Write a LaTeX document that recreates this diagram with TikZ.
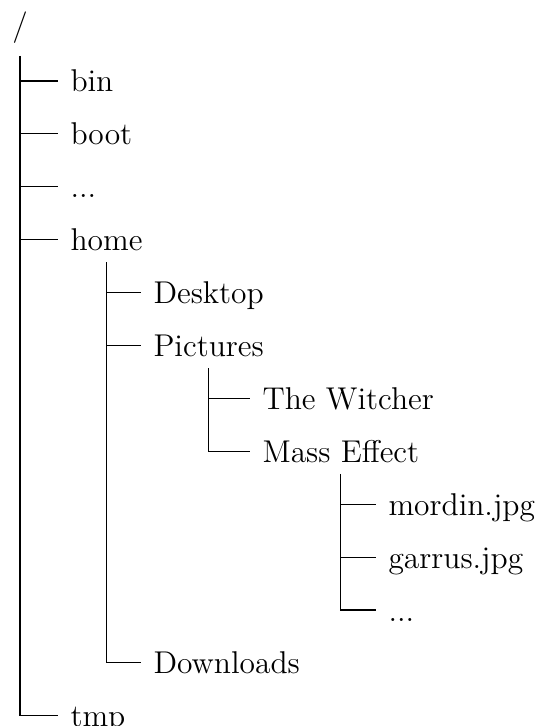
\documentclass[tikz,border=0pt]{standalone}
\begin{document}
\begin{tikzpicture}[x=0.4pt,y=-0.4pt,
  every node/.style={font=\fontsize{12.6pt}{15pt}\selectfont},
  item/.style={anchor=base west, inner xsep=4.8pt, inner ysep=1.9pt,
               text height=11.3pt, text depth=2.5pt},
  conn/.style={line width=0.45pt}]
\useasboundingbox (0,0) rectangle (550,726);
\node[anchor=base, inner sep=0pt] (root) at (20,35.6) {/};
\coordinate (roottop) at (20,56);
% level 0
\node[item] (bin)  at (58,92) {bin};
\node[item] (boot) at (58,144.9) {boot};
\node[item] (dots0) at (58,197.8) {...};
\node[item] (home) at (58,250.7) {home};
\node[item] (tmp)  at (58,726.8) {tmp};
% level 1
\node[item] (desktop)   at (141,303.6) {Desktop};
\node[item] (pictures)  at (141,356.5) {Pictures};
\node[item] (downloads) at (141,673.9) {Downloads};
% level 2
\node[item] (witcher) at (250,409.4) {The Witcher};
\node[item] (mass)    at (250,462.3) {Mass Effect};
% level 3
\node[item] (mordin) at (376,515.2) {mordin.jpg};
\node[item] (garrus) at (376,568.1) {garrus.jpg};
\node[item] (dots3)  at (376,621) {...};
% connectors
\draw[conn] (roottop) |- (tmp.west);
\foreach \c in {bin,boot,dots0,home}
  \draw[conn] (roottop |- \c.west) -- (\c.west);
\draw[conn] (home.south) |- (downloads.west);
\foreach \c in {desktop,pictures}
  \draw[conn] (home.south |- \c.west) -- (\c.west);
\draw[conn] (pictures.south) |- (mass.west);
\draw[conn] (pictures.south |- witcher.west) -- (witcher.west);
\draw[conn] (mass.south) |- (dots3.west);
\foreach \c in {mordin,garrus}
  \draw[conn] (mass.south |- \c.west) -- (\c.west);
\end{tikzpicture}
\end{document}
